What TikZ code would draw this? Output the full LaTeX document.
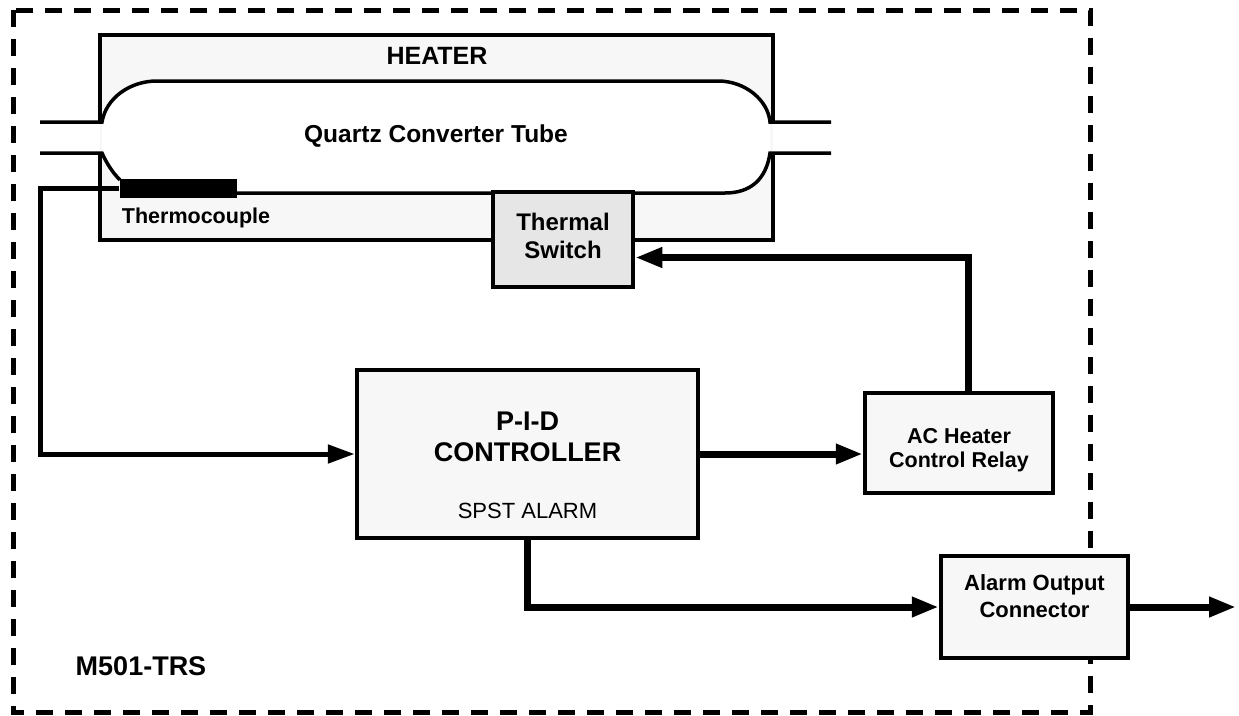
\documentclass[tikz,border=0pt]{standalone}
\usepackage{fontspec}
\setmainfont{Liberation Sans}
\usetikzlibrary{arrows.meta}
\definecolor{panel}{HTML}{F7F7F7}
\definecolor{switchgray}{HTML}{E6E6E6}
\tikzset{
  block/.style={draw, line width=4.5pt, fill=panel, inner sep=0pt, align=center,
    text depth=0pt, font=\fontsize{22}{27}\selectfont\bfseries},
  flow/.style={line width=7pt, -{Triangle[length=27pt,width=19pt]}},
  wire/.style={line width=5pt, -{Triangle[length=27pt,width=18pt]}},
  tube/.style={line width=3.5pt},
  lbl/.style={font=\fontsize{#1}{#1}\selectfont\bfseries, anchor=base, inner sep=0pt}
}
\begin{document}
\begin{tikzpicture}[x=1pt, y=-1pt]
\useasboundingbox (0,0) rectangle (1239,715);
\draw[line width=5pt, dash pattern=on 17pt off 12pt] (13,10) rectangle (1090,712);

\fill[panel] (100,35) rectangle (773,240);
\draw[line width=4pt] (100,122) -- (100,35) -- (773,35) -- (773,122)
  (773,153) -- (773,240) -- (100,240) -- (100,153);
\fill[white] (102,122) .. controls (106,98) and (130,81) .. (157,81) -- (718,81)
  .. controls (745,81) and (768,100) .. (770,122) -- (770,153)
  .. controls (766,180) and (750,193) .. (725,193) -- (120,193) -- (120,180)
  .. controls (112,172) and (106,162) .. (102,153) -- cycle;
\draw[tube] (40,122) -- (102,122) .. controls (106,98) and (130,81) .. (157,81)
  -- (718,81) .. controls (745,81) and (768,100) .. (770,122) -- (831,122);
\draw[tube] (40,153) -- (102,153) .. controls (106,162) and (112,172) .. (120,180);
\draw[tube] (237,193) -- (725,193) .. controls (750,193) and (766,180) .. (770,153)
  -- (831,153);

\node[lbl=25] (heatername) at (437,64) {HEATER};
\node[lbl=24.5] (tubename) at (436,142) {Quartz Converter Tube};
\node[fill=black, inner sep=0pt, minimum width=117pt, minimum height=19pt] (tc) at (178,188.5) {};
\node[lbl=21.5] (tcname) at (196,223) {Thermocouple};

\node[
  block,
  fill=switchgray,
  minimum width=140pt,
  minimum height=95pt,
  text height=37pt,
  font=\fontsize{24}{28}\selectfont\bfseries
] (tsw) at (563,239.5) {Thermal\\Switch};

\node[block, minimum width=341pt, minimum height=168pt] (pid) at (527.5,454) {};
\node[
  anchor=south,
  inner sep=0pt,
  align=center,
  text depth=0pt,
  font=\fontsize{27}{31}\selectfont\bfseries
] (pidname) at (527.5,462) {P-I-D\\CONTROLLER};
\node[anchor=base, inner sep=0pt, font=\fontsize{22}{26}\selectfont] (pidalarm) at (527.5,518) {SPST ALARM};

\node[
  block,
  minimum width=188pt,
  minimum height=100pt,
  text height=48pt,
  font=\fontsize{21.5}{24}\selectfont\bfseries
] (relay) at (959,443) {AC Heater\\Control Relay};

\node[
  block,
  minimum width=187pt,
  minimum height=102pt,
  text height=20pt
] (alarm) at (1034.5,607) {Alarm Output\\Connector};

\node[lbl=27] (model) at (141,675) {M501-TRS};

\coordinate (out) at (1236,607);
\draw[wire] (tc.west) -- ++(-79,0) |- (pid.west);
\draw[flow] (pid.east) -- (pid.east -| relay.west);
\draw[flow] ([xshift=9pt]relay.north) |- ([yshift=-18pt]tsw.east);
\draw[flow] (pid.south) |- (alarm.west);
\draw[flow] (alarm.east) -- (out);
\end{tikzpicture}
\end{document}
